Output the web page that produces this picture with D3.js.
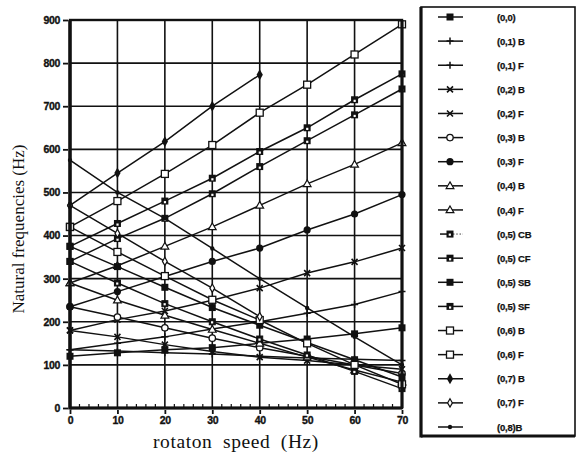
<!DOCTYPE html>
<html>
<head>
<meta charset="utf-8">
<script src="https://cdn.jsdelivr.net/npm/d3@7"></script>
<style>
  html, body { margin: 0; padding: 0; background: #fff; }
  svg { display: block; }
</style>
</head>
<body>
<svg id="chart" width="576" height="455"></svg>
<script>
// Rotation speeds (Hz) at which the natural frequencies were computed
const speed = [0, 10, 20, 30, 40, 50, 60, 70];
const yTicks = [0, 100, 200, 300, 400, 500, 600, 700, 800, 900];
const xTicks = [0, 10, 20, 30, 40, 50, 60, 70];

// Natural frequencies (Hz) of each mode versus rotation speed
const m00  = [120, 128, 135, 140, 150, 160, 172, 186];
const m01B = [135, 150, 165, 183, 200, 220, 240, 270];
const m01F = [135, 132, 128, 125, 120, 116, 113, 110];
const m02B = [180, 205, 225, 250, 278, 313, 339, 371];
const m02F = [180, 165, 147, 131, 118, 110, 100, 90];
const m03B = [235, 211, 186, 162, 140, 120, 100, 80];
const m03F = [235, 270, 305, 340, 371, 413, 450, 495];
const m04B = [290, 330, 375, 420, 470, 520, 565, 615];
const m04F = [290, 250, 215, 182, 150, 118, 88, 60];
const m05CB = [340, 290, 242, 200, 160, 123, 85, 45];
const m05CF = [340, 393, 440, 497, 560, 620, 680, 740];
const m05SB = [375, 328, 280, 233, 192, 152, 112, 72];
const m05SF = [375, 428, 480, 533, 595, 650, 715, 775];
const m06B = [420, 480, 543, 610, 685, 750, 820, 890];
const m06F = [420, 362, 306, 251, 204, 150, 100, 55];
const m07B = [470, 545, 618, 700, 773];
const m07F = [470, 405, 340, 278, 212];
const m08B = [575, 500, 440, 370, 300, 232, 165, 100];

const seriesNames = ["(0,0)", "(0,1) B", "(0,1) F", "(0,2) B", "(0,2) F", "(0,3) B", "(0,3) F",
  "(0,4) B", "(0,4) F", "(0,5) CB", "(0,5) CF", "(0,5) SB", "(0,5) SF",
  "(0,6) B", "(0,6) F", "(0,7) B", "(0,7) F", "(0,8)B"];
const seriesValues = [m00, m01B, m01F, m02B, m02F, m03B, m03F, m04B, m04F,
  m05CB, m05CF, m05SB, m05SF, m06B, m06F, m07B, m07F, m08B];
const seriesMarkers = ["sqFill", "plus", "plus", "cross", "cross", "circOpen", "circFill",
  "triOpen", "triOpen", "sqHalf", "sqDot", "sqFill", "sqDot",
  "sqOpen", "sqOpen", "diaFill", "diaOpen", "dot"];

const series = seriesNames.map((name, i) => ({
  name, marker: seriesMarkers[i],
  points: seriesValues[i].map((v, j) => ({ x: speed[j], y: v }))
}));

const svg = d3.select("#chart");
const plot = { left: 70, right: 402, top: 20, bottom: 408 };

const x = d3.scaleLinear().domain([0, 70]).range([plot.left, plot.right]);
const y = d3.scaleLinear().domain([0, 900]).range([plot.bottom, plot.top]);

const ink = "#111";

// grid
const grid = svg.append("g").attr("stroke", ink).attr("stroke-width", 1.6);
grid.selectAll("line.gx").data(xTicks.slice(1, -1)).join("line")
  .attr("x1", d => x(d)).attr("x2", d => x(d))
  .attr("y1", plot.top).attr("y2", plot.bottom);
grid.selectAll("line.gy").data(yTicks.slice(1, -1)).join("line")
  .attr("y1", d => y(d)).attr("y2", d => y(d))
  .attr("x1", plot.left).attr("x2", plot.right);

// mode curves
const line = d3.line().x(d => x(d.x)).y(d => y(d.y));
const curves = svg.append("g");
series.forEach(s => {
  curves.append("path").datum(s.points)
    .attr("d", line).attr("fill", "none")
    .attr("stroke", ink).attr("stroke-width", 1.5);
});

// marker glyphs
function drawMarker(g, type, cx, cy) {
  const sym = (t, size) => d3.symbol().type(t).size(size)();
  switch (type) {
    case "sqFill":
      g.append("rect").attr("x", cx - 3.5).attr("y", cy - 3.5).attr("width", 7).attr("height", 7).attr("fill", ink);
      break;
    case "sqOpen":
      g.append("rect").attr("x", cx - 3.5).attr("y", cy - 3.5).attr("width", 7).attr("height", 7)
        .attr("fill", "#fff").attr("stroke", ink).attr("stroke-width", 1.3);
      break;
    case "sqDot":
      g.append("rect").attr("x", cx - 3.5).attr("y", cy - 3.5).attr("width", 7).attr("height", 7).attr("fill", ink);
      g.append("rect").attr("x", cx - 1).attr("y", cy).attr("width", 2.2).attr("height", 2.2).attr("fill", "#fff");
      break;
    case "sqHalf":
      g.append("rect").attr("x", cx - 3).attr("y", cy - 3).attr("width", 6).attr("height", 6)
        .attr("fill", ink).attr("stroke", ink).attr("stroke-width", 1);
      g.append("rect").attr("x", cx - 1.3).attr("y", cy - 0.5).attr("width", 2.2).attr("height", 2.2).attr("fill", "#fff");
      break;
    case "plus":
      g.append("path").attr("d", `M${cx - 3.5},${cy}H${cx + 3.5}M${cx},${cy - 3.5}V${cy + 3.5}`)
        .attr("stroke", ink).attr("stroke-width", 1.5);
      break;
    case "cross":
      g.append("path").attr("d", `M${cx - 3},${cy - 3}L${cx + 3},${cy + 3}M${cx - 3},${cy + 3}L${cx + 3},${cy - 3}`)
        .attr("stroke", ink).attr("stroke-width", 1.6);
      break;
    case "circOpen":
      g.append("circle").attr("cx", cx).attr("cy", cy).attr("r", 3.2)
        .attr("fill", "#fff").attr("stroke", ink).attr("stroke-width", 1.3);
      break;
    case "circFill":
      g.append("circle").attr("cx", cx).attr("cy", cy).attr("r", 3.6).attr("fill", ink);
      break;
    case "triOpen":
      g.append("path").attr("transform", `translate(${cx},${cy + 0.5})`).attr("d", sym(d3.symbolTriangle, 26))
        .attr("fill", "#fff").attr("stroke", ink).attr("stroke-width", 1.2);
      break;
    case "diaFill":
      g.append("path").attr("transform", `translate(${cx},${cy})`).attr("d", sym(d3.symbolDiamond, 34))
        .attr("fill", ink);
      break;
    case "diaOpen":
      g.append("path").attr("transform", `translate(${cx},${cy})`).attr("d", sym(d3.symbolDiamond, 20))
        .attr("fill", "#fff").attr("stroke", ink).attr("stroke-width", 1.2);
      break;
    case "dot":
      g.append("circle").attr("cx", cx).attr("cy", cy).attr("r", 2.2).attr("fill", ink);
      break;
  }
}

const markers = svg.append("g");
series.forEach(s => {
  s.points.forEach(p => drawMarker(markers, s.marker, x(p.x), y(p.y)));
});

// frame
svg.append("rect").attr("x", plot.left).attr("y", plot.top)
  .attr("width", plot.right - plot.left).attr("height", plot.bottom - plot.top)
  .attr("fill", "none").attr("stroke", ink).attr("stroke-width", 2.4);
svg.append("line").attr("x1", plot.left).attr("x2", plot.left).attr("y1", plot.top).attr("y2", plot.bottom + 1.5)
  .attr("stroke", ink).attr("stroke-width", 3.5);
svg.append("line").attr("x1", plot.left).attr("x2", plot.right).attr("y1", plot.bottom).attr("y2", plot.bottom)
  .attr("stroke", ink).attr("stroke-width", 3.2);
svg.append("line").attr("x1", plot.right).attr("x2", plot.right).attr("y1", plot.top).attr("y2", plot.bottom)
  .attr("stroke", ink).attr("stroke-width", 3);

// axes
const tickFont = "bold 10.5px 'Liberation Sans', Arial, sans-serif";
const yAxis = svg.append("g").attr("transform", `translate(${plot.left - 2},0)`)
  .call(d3.axisLeft(y).tickValues(yTicks).tickSize(5).tickSizeOuter(0).tickPadding(3));
const xAxis = svg.append("g").attr("transform", `translate(0,${plot.bottom + 2})`)
  .call(d3.axisBottom(x).tickValues(xTicks).tickSize(4).tickSizeOuter(0).tickPadding(3));
[yAxis, xAxis].forEach(a => {
  a.select(".domain").remove();
  a.selectAll("line").attr("stroke", ink).attr("stroke-width", 1.8);
  a.selectAll("text").style("font", tickFont).attr("fill", ink)
    .attr("stroke", ink).attr("stroke-width", 0.35).style("letter-spacing", "-0.3px");
});

// minor ticks along the speed axis
const minor = d3.range(0, 71, 2).filter(d => d % 10 !== 0);
svg.append("g").selectAll("line").data(minor).join("line")
  .attr("x1", d => x(d)).attr("x2", d => x(d))
  .attr("y1", plot.bottom - 4).attr("y2", plot.bottom)
  .attr("stroke", ink).attr("stroke-width", 1.2);

// axis titles
svg.append("text")
  .attr("transform", `translate(24,${229}) rotate(-90)`)
  .attr("text-anchor", "middle")
  .style("font", "17px 'Liberation Serif', 'Times New Roman', serif")
  .attr("fill", ink)
  .text("Natural frequencies (Hz)");
svg.append("text")
  .attr("x", 236).attr("y", 448)
  .attr("text-anchor", "middle")
  .style("font", "19.5px 'Liberation Serif', 'Times New Roman', serif")
  .style("word-spacing", "5px").style("letter-spacing", "0.6px")
  .attr("fill", ink)
  .text("rotaton speed (Hz)");

// legend
const leg = { left: 421, top: 7, right: 575, bottom: 436 };
svg.append("rect").attr("x", leg.left).attr("y", leg.top)
  .attr("width", leg.right - leg.left).attr("height", leg.bottom - leg.top)
  .attr("fill", "#fff").attr("stroke", ink).attr("stroke-width", 1.6);
svg.append("line").attr("x1", leg.left).attr("x2", leg.left).attr("y1", leg.top).attr("y2", leg.bottom + 1.5)
  .attr("stroke", ink).attr("stroke-width", 3.2);
svg.append("line").attr("x1", leg.left).attr("x2", leg.right).attr("y1", leg.bottom).attr("y2", leg.bottom)
  .attr("stroke", ink).attr("stroke-width", 3.2);

const ly = d3.scalePoint().domain(seriesNames).range([17, 427]);
const legend = svg.append("g");
series.forEach(s => {
  const cy = ly(s.name);
  if (s.marker === "sqHalf") {
    legend.append("line").attr("x1", 440).attr("x2", 450).attr("y1", cy).attr("y2", cy)
      .attr("stroke", ink).attr("stroke-width", 1.5);
    legend.append("line").attr("x1", 450).attr("x2", 463).attr("y1", cy).attr("y2", cy)
      .attr("stroke", ink).attr("stroke-width", 1).attr("stroke-dasharray", "1.2,2");
  } else {
    legend.append("line").attr("x1", 438).attr("x2", 463).attr("y1", cy).attr("y2", cy)
      .attr("stroke", ink).attr("stroke-width", 1.5);
  }
  drawMarker(legend, s.marker, 450, cy);
  legend.append("text").attr("x", 497).attr("y", cy + 3.6)
    .style("font", "bold 9.5px 'Liberation Sans', Arial, sans-serif")
    .style("letter-spacing", "-0.2px")
    .attr("fill", ink).attr("stroke", ink).attr("stroke-width", 0.25)
    .text(s.name);
});
</script>
</body>
</html>
